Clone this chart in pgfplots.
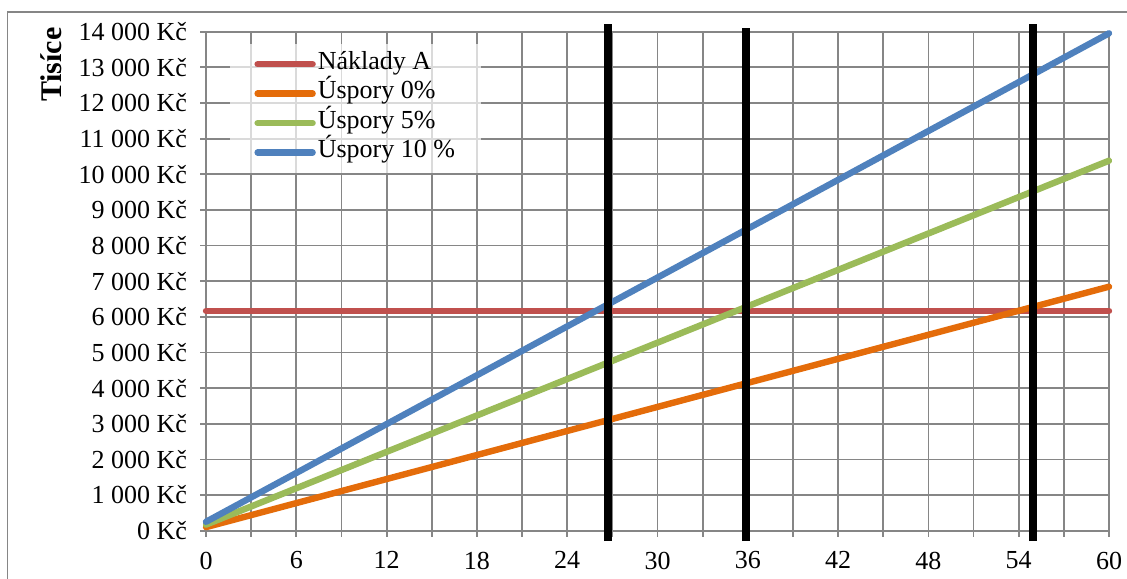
\documentclass[border=0pt]{standalone}
\usepackage{pgfplots}
\pgfplotsset{compat=1.18}
\usepackage{fontspec}
\setmainfont{Liberation Serif}

\definecolor{gridgray}{RGB}{134,134,134}
\definecolor{cRed}{RGB}{192,80,77}
\definecolor{cOrange}{RGB}{228,108,10}
\definecolor{cGreen}{RGB}{155,187,89}
\definecolor{cBlue}{RGB}{79,129,189}

\begin{document}
\begin{tikzpicture}[font=\fontsize{13}{15.6}\selectfont]
  % page extent and outer chart frame
  \path[use as bounding box] (0pt,0pt) rectangle (563.5pt,-289pt);
  \draw[gridgray, line width=0.7pt] (3.6pt,-400pt) -- (3.6pt,-6pt) -- (700pt,-6pt);
  \begin{axis}[
    at={(103pt,-265.35pt)}, anchor=south west,
    scale only axis, width=451.5pt, height=249.5pt,
    xmin=0, xmax=60, ymin=0, ymax=14000,
    clip=false,
    scaled y ticks=false,
    axis line style={gridgray, line width=0.9pt},
    grid=major,
    major grid style={gridgray, line width=0.9pt},
    tick pos=left, tick align=outside,
    major tick length=3pt,
    tick style={gridgray, line width=0.9pt},
    xtick={0,3,...,60},
    xticklabels={0,,6,,12,,18,,24,,30,,36,,42,,48,,54,,60},
    ytick={0,1000,...,14000},
    yticklabels={0 Kč,1 000 Kč,2 000 Kč,3 000 Kč,4 000 Kč,5 000 Kč,6 000 Kč,7 000 Kč,8 000 Kč,9 000 Kč,10 000 Kč,11 000 Kč,12 000 Kč,13 000 Kč,14 000 Kč},
    yticklabel style={xshift=-3pt},
    xticklabel style={yshift=-4pt},
    ylabel={Tisíce},
    ylabel style={at={(axis description cs:-0.1716,0.934)}, anchor=center,
      font=\fontsize{15}{18}\selectfont\bfseries},
    legend cell align=left,
    legend image code/.code={\draw[#1] (0pt,0pt) -- (27.5pt,0pt);},
    legend style={at={(axis description cs:0.0266,0.977)}, anchor=north west,
      draw=none, fill=white, fill opacity=0.7, text opacity=1,
      inner xsep=12pt, inner ysep=3pt, row sep=0pt, column sep=0pt,
      nodes={inner xsep=1pt, inner ysep=0pt, text height=10pt, text depth=4.7pt}},
  ]
    \addplot[cRed, line width=3.2pt, line cap=round] coordinates {(0,6170) (60,6170)};
    \addlegendentry{Náklady A}
    \addplot[cOrange, line width=3.2pt, line cap=round] coordinates {(0,100) (60,6846)};
    \addlegendentry{Úspory 0\%}
    \addplot[cGreen, line width=3.2pt, line cap=round] coordinates {(0,170) (60,10381)};
    \addlegendentry{Úspory 5\%}
    \addplot[cBlue, line width=3.2pt, line cap=round] coordinates {(0,250) (60,13955)};
    \addlegendentry{Úspory 10 \%}
    % break-even markers
    \addplot[black, line width=4pt, forget plot] coordinates {(26.73,-290) (26.73,14216)};
    \addplot[black, line width=4pt, forget plot] coordinates {(35.88,-290) (35.88,14104)};
    \addplot[black, line width=4pt, forget plot] coordinates {(54.95,-290) (54.95,14216)};
  \end{axis}
\end{tikzpicture}
\end{document}
